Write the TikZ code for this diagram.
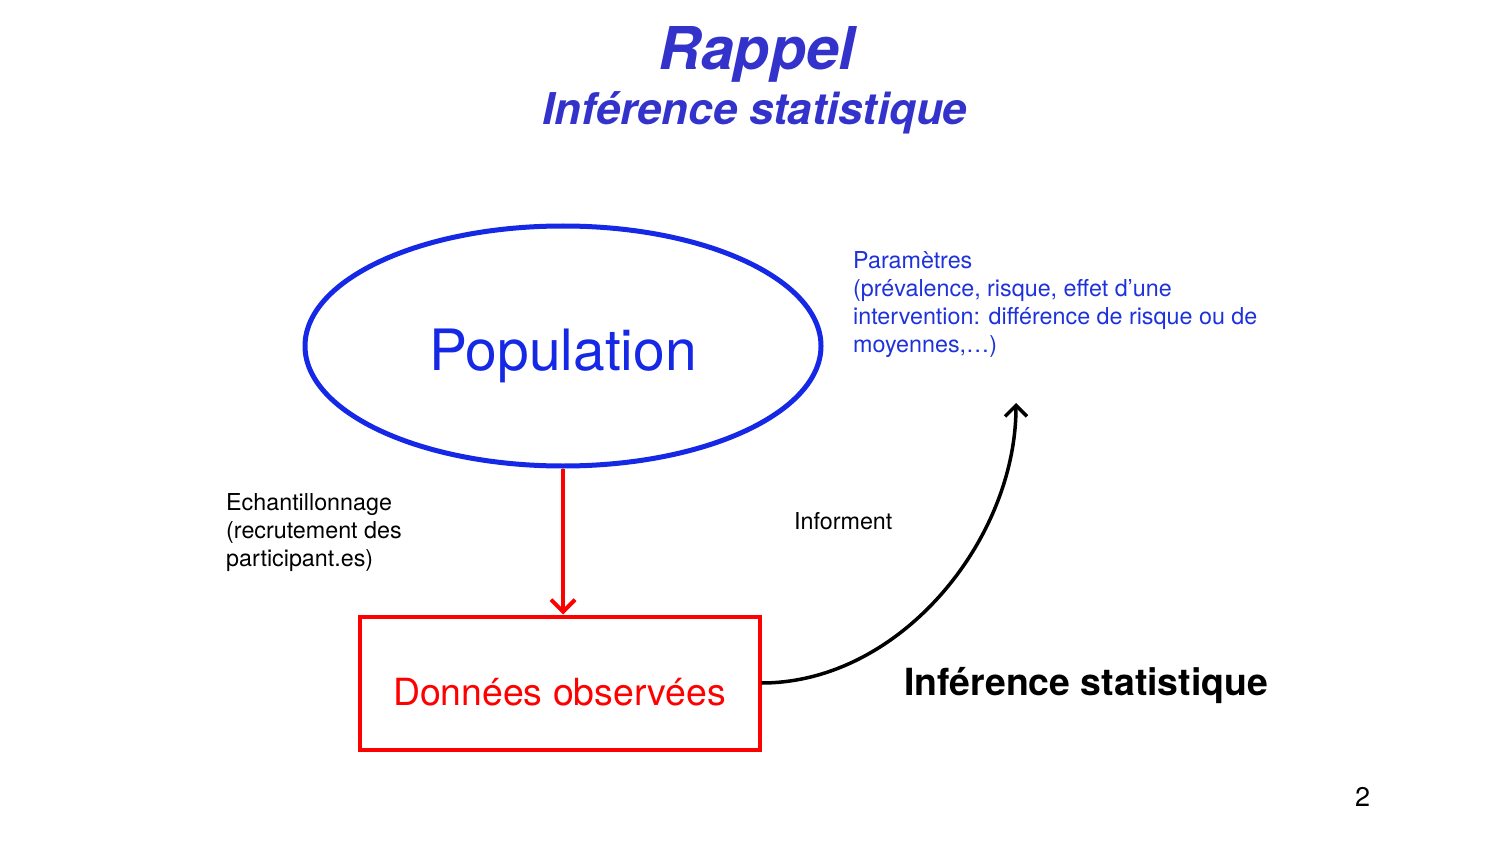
\documentclass[tikz,border=0pt]{standalone}
\usepackage{fontspec}
\setmainfont{TeX Gyre Heros}
\usetikzlibrary{arrows.meta,shapes.geometric}
\definecolor{titleblue}{RGB}{51,51,204}
\definecolor{popblue}{RGB}{20,40,230}
\definecolor{parblue}{RGB}{30,50,220}
\definecolor{redc}{RGB}{255,0,0}
\tikzset{
  small/.style={font=\fontsize{23.3}{28}\selectfont, inner sep=0pt, align=left},
}
\begin{document}
\begin{tikzpicture}[x=1pt,y=-1pt]
\useasboundingbox (0,0) rectangle (1500,845);
% titles
\node[anchor=base, inner sep=0, text=titleblue, font=\fontsize{59}{59}\selectfont\bfseries\itshape] (title) at (757,70) {Rappel};
\node[anchor=base, inner sep=0, text=titleblue, font=\fontsize{43.8}{44}\selectfont\bfseries\itshape] (subtitle) at (755,125) {Inférence statistique};
% population
\node[draw=popblue, line width=5pt, ellipse, minimum width=516, minimum height=240, inner sep=0] (pop) at (563,346) {};
\node[anchor=base, inner sep=0, text=popblue, font=\fontsize{57}{57}\selectfont] (poptext) at (563,370) {Population};
% box
\node[draw=redc, line width=4pt, minimum width=400, minimum height=133, inner sep=0] (box) at (559.5,683) {};
\node[anchor=base, inner sep=0, text=redc, font=\fontsize{37.4}{38}\selectfont] (boxtext) at (559.5,705) {Données observées};
% arrow
\draw[redc, line width=4pt, -{Straight Barb[length=12pt,width=24pt]}] (pop.south) -- (pop.south |- box.north);
% curve
\coordinate (tip) at (1016,403);
\draw[black, line width=3.5pt, -{Straight Barb[length=11pt,width=22pt]}] (box.east) .. controls (900,683) and (1016,540) .. (tip);
% texts
\node[small, anchor=north west, text=parblue] (params) at (853,251) {Paramètres\\(prévalence, risque, effet d’une\\intervention: différence de risque ou de\\moyennes,…)};
\node[small, anchor=north west] (echant) at (226,493) {Echantillonnage\\(recrutement des\\participant.es)};
\node[small, anchor=base west] (inform) at (794,529) {Informent};
\node[anchor=base west, inner sep=0, font=\fontsize{37.4}{38}\selectfont\bfseries] (infstat) at (904,695) {Inférence statistique};
\node[anchor=base west, inner sep=0, font=\fontsize{27}{27}\selectfont] (page) at (1355,806) {2};
\end{tikzpicture}
\end{document}
